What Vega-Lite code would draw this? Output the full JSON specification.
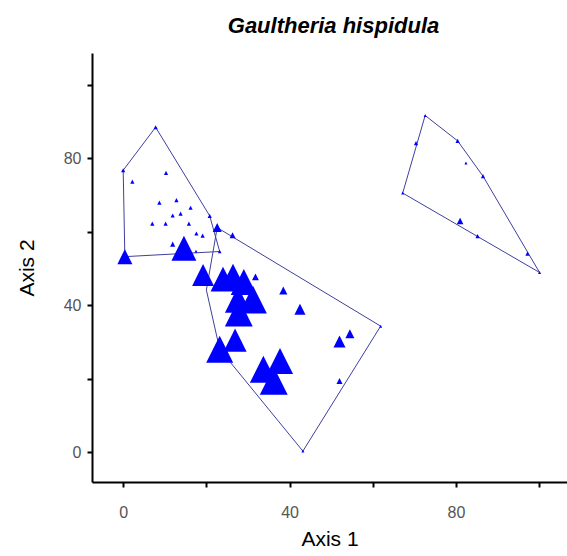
{
  "$schema": "https://vega.github.io/schema/vega-lite/v6.json",
  "width": 475,
  "height": 429,
  "autosize": {"type": "none"},
  "padding": {"left": 92, "top": 53, "right": 0, "bottom": 74},
  "background": "white",
  "title": {
    "text": "Gaultheria hispidula",
    "font": "Liberation Sans",
    "fontSize": 22,
    "fontWeight": "bold",
    "fontStyle": "italic",
    "color": "black",
    "anchor": "middle",
    "frame": "group",
    "baseline": "bottom",
    "offset": 16,
    "dy": 23,
    "dx": 4
  },
  "config": {
    "view": {"stroke": null},
    "axis": {
      "grid": false,
      "domainColor": "black",
      "domainWidth": 2,
      "tickColor": "black",
      "tickWidth": 2,
      "tickSize": 5,
      "labelFont": "Liberation Sans",
      "labelFontSize": 16,
      "labelColor": "#555555",
      "titleFont": "Liberation Sans",
      "titleFontSize": 21,
      "titleFontWeight": "normal",
      "titleColor": "black"
    }
  },
  "datasets": {
    "hulls": [
      {"group": "A", "ord": 1, "axis1": 0.0, "axis2": 76.7},
      {"group": "A", "ord": 2, "axis1": 7.8, "axis2": 88.4},
      {"group": "A", "ord": 3, "axis1": 20.8, "axis2": 64.3},
      {"group": "A", "ord": 4, "axis1": 23.2, "axis2": 54.6},
      {"group": "A", "ord": 5, "axis1": 0.4, "axis2": 53.2},
      {"group": "A", "ord": 6, "axis1": 0.0, "axis2": 76.7},
      {"group": "B", "ord": 1, "axis1": 22.6, "axis2": 61.1},
      {"group": "B", "ord": 2, "axis1": 61.9, "axis2": 34.3},
      {"group": "B", "ord": 3, "axis1": 43.2, "axis2": 0.3},
      {"group": "B", "ord": 4, "axis1": 23.2, "axis2": 28.0},
      {"group": "B", "ord": 5, "axis1": 20.0, "axis2": 44.1},
      {"group": "B", "ord": 6, "axis1": 22.6, "axis2": 61.1},
      {"group": "C", "ord": 1, "axis1": 67.2, "axis2": 70.5},
      {"group": "C", "ord": 2, "axis1": 72.6, "axis2": 91.6},
      {"group": "C", "ord": 3, "axis1": 80.4, "axis2": 84.7},
      {"group": "C", "ord": 4, "axis1": 86.5, "axis2": 75.1},
      {"group": "C", "ord": 5, "axis1": 100.1, "axis2": 48.9},
      {"group": "C", "ord": 6, "axis1": 67.2, "axis2": 70.5}
    ],
    "plots": [
      {"group": "A", "axis1": 0.0, "axis2": 76.7, "cover": 1.4},
      {"group": "A", "axis1": 7.8, "axis2": 88.4, "cover": 1.4},
      {"group": "A", "axis1": 10.3, "axis2": 76.0, "cover": 1.4},
      {"group": "A", "axis1": 2.2, "axis2": 73.6, "cover": 1.4},
      {"group": "A", "axis1": 8.7, "axis2": 67.9, "cover": 1.4},
      {"group": "A", "axis1": 12.8, "axis2": 68.6, "cover": 1.4},
      {"group": "A", "axis1": 16.2, "axis2": 66.5, "cover": 1.4},
      {"group": "A", "axis1": 11.9, "axis2": 64.4, "cover": 1.4},
      {"group": "A", "axis1": 13.8, "axis2": 64.9, "cover": 1.4},
      {"group": "A", "axis1": 7.0, "axis2": 62.2, "cover": 1.4},
      {"group": "A", "axis1": 10.2, "axis2": 62.2, "cover": 1.4},
      {"group": "A", "axis1": 15.8, "axis2": 62.2, "cover": 1.4},
      {"group": "A", "axis1": 17.6, "axis2": 59.5, "cover": 1.4},
      {"group": "A", "axis1": 19.1, "axis2": 58.9, "cover": 1.4},
      {"group": "A", "axis1": 20.8, "axis2": 64.3, "cover": 1.4},
      {"group": "A", "axis1": 23.2, "axis2": 54.6, "cover": 1.2},
      {"group": "A", "axis1": 0.4, "axis2": 53.2, "cover": 5.0},
      {"group": "A", "axis1": 11.9, "axis2": 56.6, "cover": 1.7},
      {"group": "A", "axis1": 14.6, "axis2": 55.5, "cover": 8.3},
      {"group": "A", "axis1": 17.5, "axis2": 54.7, "cover": 1.0},
      {"group": "B", "axis1": 22.6, "axis2": 61.1, "cover": 3.0},
      {"group": "B", "axis1": 26.3, "axis2": 59.0, "cover": 2.0},
      {"group": "B", "axis1": 19.2, "axis2": 48.2, "cover": 7.3},
      {"group": "B", "axis1": 24.0, "axis2": 47.1, "cover": 8.3},
      {"group": "B", "axis1": 26.4, "axis2": 47.9, "cover": 8.3},
      {"group": "B", "axis1": 29.0, "axis2": 46.3, "cover": 8.7},
      {"group": "B", "axis1": 31.8, "axis2": 47.7, "cover": 2.3},
      {"group": "B", "axis1": 31.2, "axis2": 41.5, "cover": 9.3},
      {"group": "B", "axis1": 27.6, "axis2": 41.5, "cover": 8.7},
      {"group": "B", "axis1": 27.8, "axis2": 38.0, "cover": 9.3},
      {"group": "B", "axis1": 26.9, "axis2": 30.5, "cover": 7.7},
      {"group": "B", "axis1": 23.2, "axis2": 28.0, "cover": 9.0},
      {"group": "B", "axis1": 37.7, "axis2": 24.8, "cover": 8.7},
      {"group": "B", "axis1": 33.7, "axis2": 22.6, "cover": 9.0},
      {"group": "B", "axis1": 36.2, "axis2": 19.4, "cover": 9.3},
      {"group": "B", "axis1": 38.5, "axis2": 44.0, "cover": 2.7},
      {"group": "B", "axis1": 42.5, "axis2": 38.9, "cover": 3.7},
      {"group": "B", "axis1": 52.0, "axis2": 30.1, "cover": 4.0},
      {"group": "B", "axis1": 54.5, "axis2": 32.2, "cover": 3.0},
      {"group": "B", "axis1": 52.0, "axis2": 19.4, "cover": 2.0},
      {"group": "B", "axis1": 61.9, "axis2": 34.3, "cover": 1.0},
      {"group": "B", "axis1": 43.2, "axis2": 0.3, "cover": 1.0},
      {"group": "C", "axis1": 67.2, "axis2": 70.5, "cover": 1.0},
      {"group": "C", "axis1": 72.6, "axis2": 91.6, "cover": 1.0},
      {"group": "C", "axis1": 70.4, "axis2": 84.1, "cover": 1.4},
      {"group": "C", "axis1": 80.4, "axis2": 84.7, "cover": 1.4},
      {"group": "C", "axis1": 82.4, "axis2": 78.7, "cover": 1.0},
      {"group": "C", "axis1": 86.5, "axis2": 75.1, "cover": 1.4},
      {"group": "C", "axis1": 100.1, "axis2": 48.9, "cover": 1.0},
      {"group": "C", "axis1": 81.0, "axis2": 62.9, "cover": 2.2},
      {"group": "C", "axis1": 85.2, "axis2": 58.8, "cover": 1.4},
      {"group": "C", "axis1": 97.2, "axis2": 54.0, "cover": 1.4}
    ]
  },
  "encoding": {
    "x": {
      "field": "axis1",
      "type": "quantitative",
      "title": "Axis 1",
      "scale": {"domain": [-7.5, 106.7], "nice": false, "zero": false},
      "axis": {
        "values": [0, 20, 40, 60, 80, 100],
        "labelExpr": "datum.value % 40 === 0 ? datum.label : ''",
        "labelPadding": 17,
        "titlePadding": 8
      }
    },
    "y": {
      "field": "axis2",
      "type": "quantitative",
      "title": "Axis 2",
      "scale": {"domain": [-8.1, 108.6], "nice": false, "zero": false},
      "axis": {
        "values": [0, 20, 40, 60, 80, 100],
        "labelExpr": "datum.value % 40 === 0 ? datum.label : ''",
        "labelPadding": 6,
        "titlePadding": 26
      }
    }
  },
  "layer": [
    {
      "data": {"name": "hulls"},
      "mark": {"type": "line", "color": "#3f3f9f", "strokeWidth": 1},
      "encoding": {
        "detail": {"field": "group"},
        "order": {"field": "ord", "type": "quantitative"}
      }
    },
    {
      "data": {"name": "plots"},
      "mark": {
        "type": "point",
        "shape": "M0,-1L1,1L-1,1Z",
        "filled": true,
        "color": "#0000ff",
        "opacity": 1,
        "strokeWidth": 0
      },
      "encoding": {
        "size": {
          "field": "cover",
          "type": "quantitative",
          "scale": {"type": "pow", "exponent": 2, "domain": [0, 10], "range": [0, 900]},
          "legend": null
        }
      }
    }
  ]
}
